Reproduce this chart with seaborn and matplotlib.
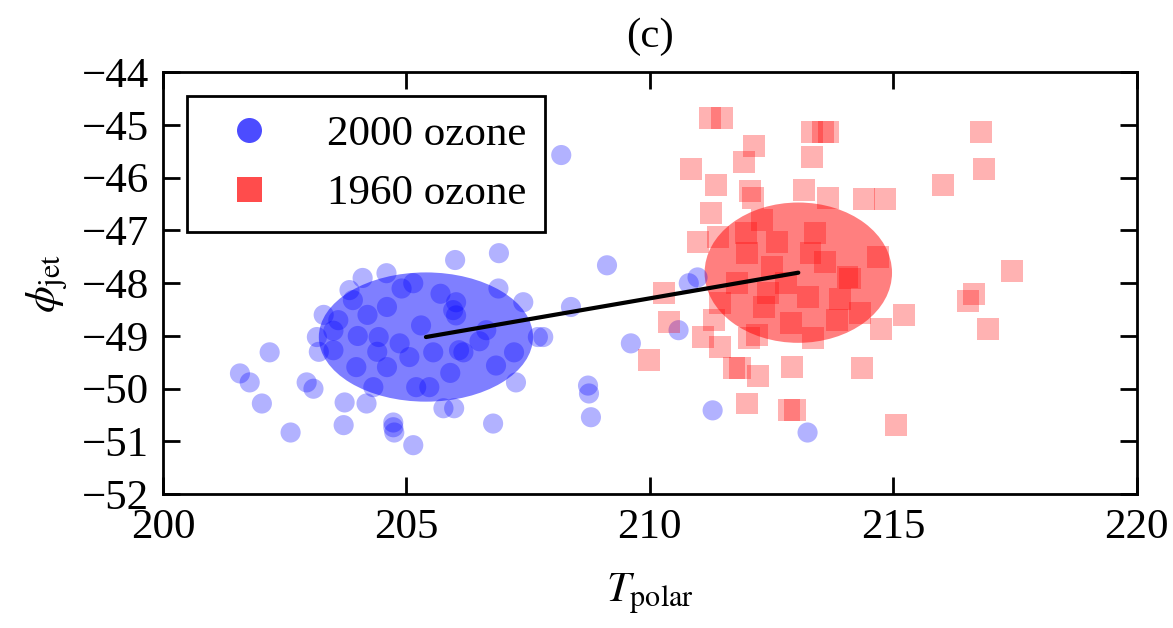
import numpy as np
import pandas as pd
import matplotlib
matplotlib.use("Agg")
import matplotlib.pyplot as plt
from matplotlib.patches import Ellipse
from matplotlib.lines import Line2D
import seaborn as sns

# ---- data ----
blue_x = [201.58, 201.78, 202.03, 202.19, 202.62, 202.95, 203.09, 203.16, 203.73, 203.71,
          203.83, 203.50, 203.50, 203.90, 203.97, 204.43, 204.60, 204.86, 205.14, 204.60,
          205.06, 205.96, 205.20, 205.47, 204.32, 204.18, 206.08, 206.00, 203.60, 204.59,
          206.90, 206.02, 206.02, 206.89, 207.40, 207.70, 205.55, 206.17, 206.84, 207.21,
          207.25, 205.76, 205.98, 206.78, 205.14, 204.73, 204.75, 204.73, 206.64, 208.18,
          209.12, 208.38, 207.81, 209.61, 208.73, 208.75, 208.79, 210.59, 210.80, 210.98,
          211.29, 213.24, 204.20, 204.00, 205.70, 205.30, 204.40, 206.50, 203.20, 204.90,
          205.90, 204.10, 203.30]
blue_y = [-49.71, -49.88, -50.28, -49.31, -50.83, -49.88, -50.00, -49.02, -50.26, -50.69,
          -48.13, -48.90, -49.27, -48.32, -49.59, -49.02, -48.45, -49.14, -48.00, -49.59,
          -49.40, -48.51, -49.97, -49.97, -49.97, -50.28, -49.27, -47.56, -48.70, -47.81,
          -47.43, -48.36, -48.61, -48.10, -48.36, -49.02, -49.31, -49.31, -49.56, -49.31,
          -49.88, -50.37, -50.37, -50.66, -51.07, -50.73, -50.83, -50.64, -48.89, -45.57,
          -47.66, -48.45, -49.02, -49.14, -49.94, -50.09, -50.54, -48.89, -48.00, -47.89,
          -50.41, -50.83, -48.60, -49.00, -48.20, -48.80, -49.30, -49.10, -49.30, -48.10,
          -49.70, -47.90, -48.60]

red_x = [211.23, 211.48, 212.13, 211.93, 210.84, 211.35, 213.34, 213.55, 213.67, 213.34,
         211.25, 212.05, 212.11, 213.16, 213.65, 214.39, 214.84, 210.98, 211.41, 211.97,
         212.62, 213.40, 212.00, 213.30, 214.06, 214.69, 214.12, 210.29, 210.39, 209.98,
         211.45, 211.31, 211.09, 211.45, 212.03, 212.42, 213.24, 212.89, 213.85, 214.32,
         214.75, 215.23, 211.72, 211.86, 212.23, 212.93, 214.36, 212.00, 212.85, 212.99,
         215.06, 216.80, 216.86, 216.02, 217.44, 216.54, 216.66, 216.95, 212.34, 212.20,
         213.36, 212.50, 213.60, 212.80, 211.80, 213.90, 212.30]
red_y = [-44.87, -44.87, -45.40, -45.70, -45.84, -46.14, -45.13, -45.13, -45.13, -45.61,
         -46.67, -46.25, -46.39, -46.24, -46.39, -46.41, -46.41, -47.22, -47.13, -47.05,
         -47.22, -47.05, -47.43, -47.43, -47.89, -47.50, -47.91, -48.19, -48.74, -49.46,
         -48.38, -48.70, -49.02, -49.21, -49.04, -48.19, -48.26, -48.76, -48.70, -48.57,
         -48.87, -48.61, -49.61, -49.61, -49.75, -49.59, -49.61, -50.28, -50.41, -50.41,
         -50.68, -45.13, -45.84, -46.14, -47.77, -48.34, -48.21, -48.87, -48.45, -48.99,
         -49.04, -47.70, -47.60, -48.00, -48.00, -48.30, -46.80]

series = ["2000 ozone", "1960 ozone"]
center_x = [205.4, 213.05]
center_y = [-49.02, -47.80]
spread_x = [4.4, 3.85]
spread_y = [2.45, 2.66]

x_ticks = [200, 205, 210, 215, 220]
y_ticks = [-52, -51, -50, -49, -48, -47, -46, -45, -44]

# ---- style ----
sns.set_style("ticks")
plt.rcParams["font.family"] = ["Liberation Serif", "DejaVu Serif"]
plt.rcParams["mathtext.fontset"] = "stix"
plt.rcParams["axes.unicode_minus"] = True
for k in ["text.color", "axes.labelcolor", "xtick.color", "ytick.color",
          "xtick.labelcolor", "ytick.labelcolor"]:
    plt.rcParams[k] = "black"

FS = 31
fig = plt.figure(figsize=(11.73, 6.28), dpi=100)
ax = fig.add_axes([0.139, 0.213, 0.830, 0.672])

blue_c = "#0000ff"
red_c = "#ff0000"

# ellipses (spread around the means)
for cx, cy, w, h, c in zip(center_x, center_y, spread_x, spread_y, [blue_c, red_c]):
    ax.add_patch(Ellipse((cx, cy), w, h, facecolor=c, edgecolor="none", alpha=0.5, zorder=1))

df_b = pd.DataFrame({"x": blue_x, "y": blue_y})
df_r = pd.DataFrame({"x": red_x, "y": red_y})
sns.scatterplot(data=df_b, x="x", y="y", ax=ax, color=blue_c, alpha=0.3, s=210,
                marker="o", edgecolor="none", linewidth=0, zorder=2, legend=False)
sns.scatterplot(data=df_r, x="x", y="y", ax=ax, color=red_c, alpha=0.3, s=250,
                marker="s", edgecolor="none", linewidth=0, zorder=2, legend=False)

ax.plot(center_x, center_y, color="black", lw=3, zorder=3)

ax.set_xlim(200, 220)
ax.set_ylim(-52, -44)
ax.set_xticks(x_ticks)
ax.set_yticks(y_ticks)
ax.tick_params(direction="in", length=12, width=2, labelsize=FS, top=True, right=True,
               pad=10, colors="black")
for sp in ax.spines.values():
    sp.set_visible(True)
    sp.set_linewidth(2)
    sp.set_color("black")

ax.set_xlabel(r"$T_{\rm polar}$", fontsize=FS, labelpad=18)
ax.set_ylabel(r"$\phi_{\rm jet}$", fontsize=FS, labelpad=8)
ax.set_title("(c)", fontsize=FS, pad=18)

handles = [Line2D([], [], marker="o", ls="none", color=blue_c, alpha=0.7, markersize=18,
                  markeredgewidth=0),
           Line2D([], [], marker="s", ls="none", color=red_c, alpha=0.7, markersize=18,
                  markeredgewidth=0)]
leg = ax.legend(handles, series, loc="upper left", fontsize=FS, frameon=True,
                fancybox=False, borderaxespad=0.55, labelspacing=0.45,
                handletextpad=0.8, borderpad=0.45)
leg.get_frame().set_edgecolor("black")
leg.get_frame().set_linewidth(2)
leg.get_frame().set_alpha(1)

fig.savefig("out.png", dpi=100)
